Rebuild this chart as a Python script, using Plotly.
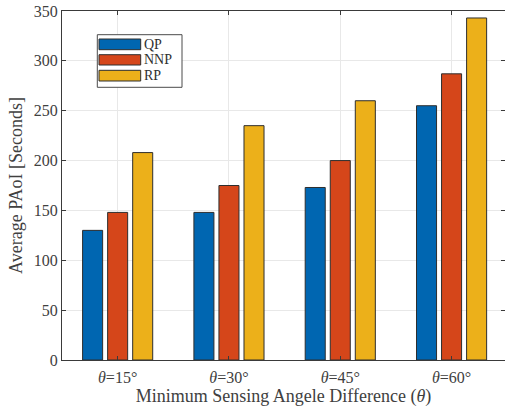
import plotly.graph_objects as go

# Average peak age of information per scheme and minimum sensing angle
categories = [1, 2, 3, 4]
category_labels = ["<i>θ</i>=15°", "<i>θ</i>=30°", "<i>θ</i>=45°", "<i>θ</i>=60°"]
series_names = ["QP", "NNP", "RP"]
qp_values = [130, 148, 173, 255]
nnp_values = [148, 175, 200, 287]
rp_values = [208, 235, 260, 343]
y_ticks = [0, 50, 100, 150, 200, 250, 300, 350]

colors = ["#0066B1", "#D5461A", "#ECB01A"]
FONT = "Liberation Serif"
AXIS = "#3a3a3a"
TEXT = "#404040"

W, H = 505, 407
L, R, T, B = 62, 0, 11, 47

fig = go.Figure()
for name, vals, col in zip(series_names, [qp_values, nnp_values, rp_values], colors):
    fig.add_trace(go.Bar(
        x=categories, y=vals, name=name,
        marker=dict(color=col, line=dict(color="#2e2e2e", width=1)),
        showlegend=False,
    ))

axis_common = dict(
    showline=True, linecolor=AXIS, linewidth=1, mirror="allticks",
    ticks="inside", ticklen=4, tickcolor=AXIS, tickwidth=1,
    showgrid=True, gridcolor="#e8e8e8", gridwidth=1,
    zeroline=False,
    tickfont=dict(family=FONT, size=16, color=TEXT),
)

fig.update_layout(
    width=W, height=H,
    margin=dict(l=L, r=R, t=T, b=B),
    paper_bgcolor="white", plot_bgcolor="white",
    barmode="group", bargap=0.325, bargroupgap=0.2,
    xaxis=dict(
        range=[0.5, 4.48], tickvals=categories, ticktext=category_labels,
        ticklabelstandoff=3,
        title=dict(text="Minimum Sensing Angele Difference (<i>θ</i>)",
                   font=dict(family=FONT, size=18, color=TEXT), standoff=1),
        **axis_common,
    ),
    yaxis=dict(
        range=[0, 350], tickvals=y_ticks,
        title=dict(text="Average PAoI [Seconds]",
                   font=dict(family=FONT, size=18, color=TEXT), standoff=6),
        **axis_common,
    ),
)

# Legend drawn as a framed box with wide swatches
pw = W - L - R
ph = H - T - B


def px_x(v):
    return (v - L) / pw


def px_y(v):
    return (H - B - v) / ph


fig.add_shape(type="rect", xref="paper", yref="paper",
              x0=px_x(97.3), x1=px_x(182), y0=px_y(87.3), y1=px_y(34.7),
              line=dict(color="#4a4a4a", width=1), fillcolor="white")
swatch_rows = [(39, 49.7), (54.7, 65), (70.3, 81)]
for (top, bot), name, col in zip(swatch_rows, series_names, colors):
    fig.add_shape(type="rect", xref="paper", yref="paper",
                  x0=px_x(99), x1=px_x(140.7), y0=px_y(bot), y1=px_y(top),
                  line=dict(color="#2e2e2e", width=1), fillcolor=col)
    fig.add_annotation(xref="paper", yref="paper", x=px_x(142.5),
                       y=px_y((top + bot) / 2), text=name, showarrow=False,
                       xanchor="left", yanchor="middle", borderpad=0,
                       font=dict(family=FONT, size=14, color="#303030"))

fig.write_html("out.html")
